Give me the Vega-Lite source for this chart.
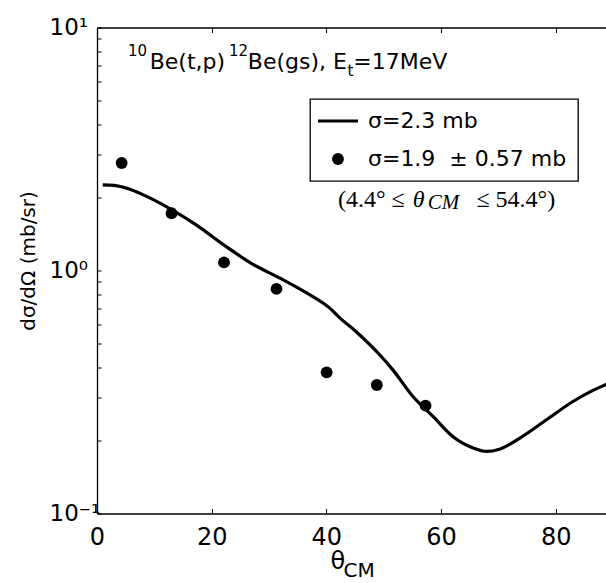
{
  "$schema": "https://vega.github.io/schema/vega-lite/v6.json",
  "autosize": {"type": "none"},
  "padding": {"left": 97, "top": 27.5, "right": 0, "bottom": 69.5},
  "width": 509,
  "height": 486,
  "config": {
    "font": "DejaVu Sans",
    "view": {"stroke": null},
    "axis": {"grid": false, "domainColor": "black", "domainWidth": 1.3, "tickColor": "black", "tickWidth": 1, "labelColor": "black", "titleColor": "black", "labelOverlap": false, "labelFlush": false, "labelBound": false}
  },
  "datasets": {
    "curve": [
      {"theta": 1, "xs": 2.25, "series": "σ=2.3 mb"}, {"theta": 3, "xs": 2.24, "series": "σ=2.3 mb"}, {"theta": 5.7, "xs": 2.16, "series": "σ=2.3 mb"}, {"theta": 9.2, "xs": 1.99, "series": "σ=2.3 mb"},
      {"theta": 13, "xs": 1.78, "series": "σ=2.3 mb"}, {"theta": 17.3, "xs": 1.54, "series": "σ=2.3 mb"}, {"theta": 22, "xs": 1.28, "series": "σ=2.3 mb"}, {"theta": 27.2, "xs": 1.06, "series": "σ=2.3 mb"},
      {"theta": 31.9, "xs": 0.93, "series": "σ=2.3 mb"}, {"theta": 36.5, "xs": 0.81, "series": "σ=2.3 mb"}, {"theta": 40.6, "xs": 0.70, "series": "σ=2.3 mb"}, {"theta": 42.3, "xs": 0.64, "series": "σ=2.3 mb"},
      {"theta": 45.2, "xs": 0.56, "series": "σ=2.3 mb"}, {"theta": 49.3, "xs": 0.45, "series": "σ=2.3 mb"}, {"theta": 51.6, "xs": 0.39, "series": "σ=2.3 mb"}, {"theta": 55.1, "xs": 0.303, "series": "σ=2.3 mb"},
      {"theta": 58.6, "xs": 0.251, "series": "σ=2.3 mb"}, {"theta": 62.1, "xs": 0.207, "series": "σ=2.3 mb"}, {"theta": 65.6, "xs": 0.186, "series": "σ=2.3 mb"}, {"theta": 67.9, "xs": 0.180, "series": "σ=2.3 mb"},
      {"theta": 70.2, "xs": 0.184, "series": "σ=2.3 mb"}, {"theta": 73.7, "xs": 0.204, "series": "σ=2.3 mb"}, {"theta": 78.4, "xs": 0.243, "series": "σ=2.3 mb"}, {"theta": 83.0, "xs": 0.289, "series": "σ=2.3 mb"},
      {"theta": 86.5, "xs": 0.321, "series": "σ=2.3 mb"}, {"theta": 88.7, "xs": 0.339, "series": "σ=2.3 mb"}, {"theta": 90, "xs": 0.35, "series": "σ=2.3 mb"}
    ],
    "points": [
      {"theta": 4.3, "xs": 2.77}, {"theta": 13.0, "xs": 1.72}, {"theta": 22.15, "xs": 1.08}, {"theta": 31.3, "xs": 0.84},
      {"theta": 40.05, "xs": 0.381}, {"theta": 48.8, "xs": 0.338}, {"theta": 57.3, "xs": 0.278}
    ]
  },
  "resolve": {"axis": {"x": "independent", "y": "independent"}},
  "layer": [
    {
      "data": {"name": "curve"},
      "mark": {"type": "line", "strokeWidth": 3.2, "interpolate": "monotone", "clip": true},
      "encoding": {
        "x": {"field": "theta", "type": "quantitative", "scale": {"domain": [0, 88.77], "nice": false},
          "axis": {"orient": "bottom", "values": [0, 20, 40, 60, 80], "tickSize": -5, "labelFontSize": 24, "labelBaseline": "alphabetic", "labelPadding": 36,
            "title": "θ", "titleFontSize": 24, "titleFontWeight": "normal", "titleX": 233, "titleY": 54.5, "titleAlign": "left", "titleBaseline": "alphabetic"}},
        "y": {"field": "xs", "type": "quantitative", "scale": {"type": "log", "domain": [0.1, 10], "nice": false},
          "axis": {"orient": "left", "values": [0.1, 0.2, 0.3, 0.4, 0.5, 0.6, 0.7, 0.8, 0.9, 1, 2, 3, 4, 5, 6, 7, 8, 9, 10],
            "labelExpr": "datum.value == 10 ? '10¹' : datum.value == 1 ? '10⁰' : datum.value == 0.1 ? '10⁻¹' : ''",
            "tickSize": -4,
            "labelFontSize": 23, "labelAlign": "left", "labelBaseline": "middle", "labelPadding": 52,
            "title": "dσ/dΩ (mb/sr)", "titleFontSize": 20, "titleFontWeight": "normal", "titleX": -69, "titleY": 233, "titleAngle": 270, "titleAlign": "center", "titleBaseline": "middle"}},
        "color": {"field": "series", "type": "nominal",
          "scale": {"domain": ["σ=2.3 mb", "σ=1.9\u00a0 ± 0.57 mb"], "range": ["black", "black"]},
          "legend": {"orient": "none", "legendX": 213, "legendY": 71.5, "title": null,
            "strokeColor": "black", "fillColor": "white", "padding": 11, "cornerRadius": 0,
            "symbolSize": 784, "rowPadding": 16, "symbolOffset": 6, "labelOffset": 19,
            "labelFontSize": 22, "labelColor": "black", "labelLimit": 400, "symbolType": "circle",
            "encode": {
              "legend": {"update": {"strokeWidth": {"value": 1.3}}},
              "symbols": {"update": {
              "shape": {"signal": "datum.value === 'σ=2.3 mb' ? 'stroke' : 'circle'"},
              "size": {"signal": "datum.value === 'σ=2.3 mb' ? 1600 : 140"},
              "strokeWidth": {"signal": "datum.value === 'σ=2.3 mb' ? 3.2 : 0"},
              "stroke": {"value": "black"},
              "fill": {"signal": "datum.value === 'σ=2.3 mb' ? 'transparent' : 'black'"},
              "opacity": {"value": 1}
            }}}}
        }
      }
    },
    {
      "data": {"name": "points"},
      "mark": {"type": "point", "filled": true, "size": 140, "opacity": 1, "shape": "circle", "color": "black"},
      "encoding": {
        "x": {"field": "theta", "type": "quantitative", "scale": {"domain": [0, 88.77], "nice": false},
          "axis": {"orient": "top", "values": [0, 20, 40, 60, 80], "tickSize": -5, "labels": false, "title": null}},
        "y": {"field": "xs", "type": "quantitative", "scale": {"type": "log", "domain": [0.1, 10], "nice": false}, "axis": null}
      }
    },
    {
      "data": {"values": [{}]},
      "mark": {"type": "text", "text": "10", "fontSize": 15, "align": "left", "baseline": "alphabetic", "color": "black"},
      "encoding": {
        "x": {"datum": 5.41, "type": "quantitative", "scale": {"domain": [0, 88.77], "nice": false}, "axis": null},
        "y": {"datum": 7.6, "type": "quantitative", "scale": {"type": "log", "domain": [0.1, 10], "nice": false}, "axis": null}
      }
    },
    {
      "data": {"values": [{}]},
      "mark": {"type": "text", "text": "Be(t,p)", "fontSize": 22, "align": "left", "baseline": "alphabetic", "color": "black"},
      "encoding": {
        "x": {"datum": 9.19, "type": "quantitative", "scale": {"domain": [0, 88.77], "nice": false}, "axis": null},
        "y": {"datum": 6.744, "type": "quantitative", "scale": {"type": "log", "domain": [0.1, 10], "nice": false}, "axis": null}
      }
    },
    {
      "data": {"values": [{}]},
      "mark": {"type": "text", "text": "12", "fontSize": 15, "align": "left", "baseline": "alphabetic", "color": "black"},
      "encoding": {
        "x": {"datum": 23.0, "type": "quantitative", "scale": {"domain": [0, 88.77], "nice": false}, "axis": null},
        "y": {"datum": 7.6, "type": "quantitative", "scale": {"type": "log", "domain": [0.1, 10], "nice": false}, "axis": null}
      }
    },
    {
      "data": {"values": [{}]},
      "mark": {"type": "text", "text": "Be(gs), E", "fontSize": 22, "align": "left", "baseline": "alphabetic", "color": "black"},
      "encoding": {
        "x": {"datum": 26.3, "type": "quantitative", "scale": {"domain": [0, 88.77], "nice": false}, "axis": null},
        "y": {"datum": 6.744, "type": "quantitative", "scale": {"type": "log", "domain": [0.1, 10], "nice": false}, "axis": null}
      }
    },
    {
      "data": {"values": [{}]},
      "mark": {"type": "text", "text": "t", "fontSize": 15, "align": "left", "baseline": "alphabetic", "color": "black"},
      "encoding": {
        "x": {"datum": 43.7, "type": "quantitative", "scale": {"domain": [0, 88.77], "nice": false}, "axis": null},
        "y": {"datum": 6.327, "type": "quantitative", "scale": {"type": "log", "domain": [0.1, 10], "nice": false}, "axis": null}
      }
    },
    {
      "data": {"values": [{}]},
      "mark": {"type": "text", "text": "=17MeV", "fontSize": 22, "align": "left", "baseline": "alphabetic", "color": "black"},
      "encoding": {
        "x": {"datum": 44.7, "type": "quantitative", "scale": {"domain": [0, 88.77], "nice": false}, "axis": null},
        "y": {"datum": 6.744, "type": "quantitative", "scale": {"type": "log", "domain": [0.1, 10], "nice": false}, "axis": null}
      }
    },
    {
      "data": {"values": [{}]},
      "mark": {"type": "text", "text": "(4.4° ≤", "font": "Liberation Serif", "fontSize": 24, "align": "left", "baseline": "alphabetic", "color": "black"},
      "encoding": {
        "x": {"datum": 42.03, "type": "quantitative", "scale": {"domain": [0, 88.77], "nice": false}, "axis": null},
        "y": {"datum": 1.824, "type": "quantitative", "scale": {"type": "log", "domain": [0.1, 10], "nice": false}, "axis": null}
      }
    },
    {
      "data": {"values": [{}]},
      "mark": {"type": "text", "text": "θ", "font": "Liberation Serif", "fontStyle": "italic", "fontSize": 24, "align": "left", "baseline": "alphabetic", "color": "black"},
      "encoding": {
        "x": {"datum": 55.06, "type": "quantitative", "scale": {"domain": [0, 88.77], "nice": false}, "axis": null},
        "y": {"datum": 1.824, "type": "quantitative", "scale": {"type": "log", "domain": [0.1, 10], "nice": false}, "axis": null}
      }
    },
    {
      "data": {"values": [{}]},
      "mark": {"type": "text", "text": "CM", "font": "Liberation Serif", "fontStyle": "italic", "fontSize": 21, "align": "left", "baseline": "alphabetic", "color": "black"},
      "encoding": {
        "x": {"datum": 57.67, "type": "quantitative", "scale": {"domain": [0, 88.77], "nice": false}, "axis": null},
        "y": {"datum": 1.786, "type": "quantitative", "scale": {"type": "log", "domain": [0.1, 10], "nice": false}, "axis": null}
      }
    },
    {
      "data": {"values": [{}]},
      "mark": {"type": "text", "text": "≤ 54.4°)", "font": "Liberation Serif", "fontSize": 24, "align": "left", "baseline": "alphabetic", "color": "black"},
      "encoding": {
        "x": {"datum": 66.17, "type": "quantitative", "scale": {"domain": [0, 88.77], "nice": false}, "axis": null},
        "y": {"datum": 1.824, "type": "quantitative", "scale": {"type": "log", "domain": [0.1, 10], "nice": false}, "axis": null}
      }
    },
    {
      "data": {"values": [{}]},
      "mark": {"type": "text", "text": "CM", "fontSize": 20, "align": "left", "baseline": "alphabetic", "color": "black"},
      "encoding": {
        "x": {"datum": 43.0, "type": "quantitative", "scale": {"domain": [0, 88.77], "nice": false}, "axis": null},
        "y": {"datum": 0.0547, "type": "quantitative", "scale": {"type": "log", "domain": [0.1, 10], "nice": false}, "axis": null}
      }
    }
  ]
}
